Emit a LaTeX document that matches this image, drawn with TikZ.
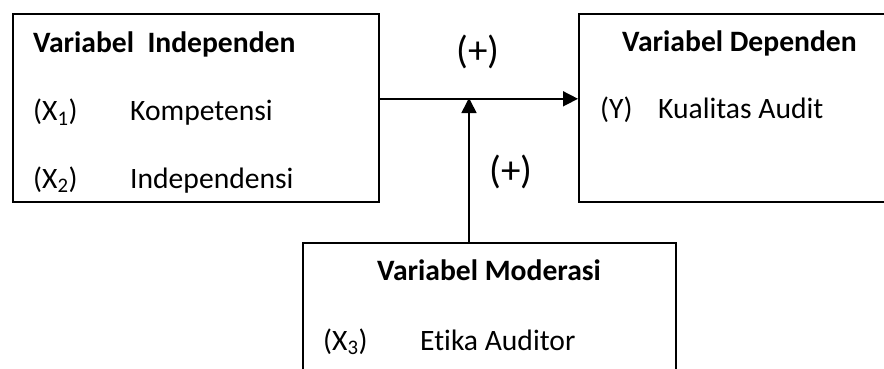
\documentclass[tikz,border=0pt]{standalone}
\usepackage{fontspec}
\setmainfont[Ligatures={NoCommon}]{Carlito}
\usetikzlibrary{arrows.meta}
\begin{document}
\begin{tikzpicture}[x=1pt,y=-1pt,
  box/.style={draw=black,line width=1.6pt,rectangle,inner sep=0pt,anchor=north west},
  txt/.style={anchor=base west,inner sep=0pt,font=\fontsize{29.6}{34}\selectfont},
  hdr/.style={anchor=base west,inner sep=0pt,font=\fontsize{29.6}{34}\selectfont\bfseries},
  sign/.style={anchor=center,inner sep=0pt,font=\fontsize{39}{44}\selectfont},
  arr/.style={line width=1.6pt,-{Triangle[length=15pt,width=15pt]}}]
\clip (0,0) rectangle (884,369);
\fill[white] (0,0) rectangle (884,369);
% boxes
\node[box,minimum width=366pt,minimum height=188pt] (lb) at (12,13) {};
\node[box,minimum width=340pt,minimum height=188pt] (rb) at (578,13) {};
\node[box,minimum width=373pt,minimum height=160pt] (bb) at (302,242) {};
% left texts
\node[hdr] (lh) at (33,53) {Variabel\ \ Independen};
\node[txt] (x1) at (33,121) {(X\textsubscript{1})};
\node[txt] (k1) at (130,121) {Kompetensi};
\node[txt] (x2) at (33,188) {(X\textsubscript{2})};
\node[txt] (k2) at (130,188) {Independensi};
% right texts
\node[hdr] (rh) at (622,52) {Variabel Dependen};
\node[txt] (y) at (600,118) {(Y)};
\node[txt] (ka) at (658,118) {Kualitas Audit};
% bottom texts
\node[hdr] (bh) at (377,280) {Variabel Moderasi};
\node[txt] (x3) at (323,350) {(X\textsubscript{3})};
\node[txt] (ea) at (420,350) {Etika Auditor};
% connectors
\coordinate (m) at (469,98);
\draw[arr] ([yshift=9pt]lb.east) -- ([yshift=9pt]rb.west);
\draw[arr] (m |- bb.north) -- (m);
% signs
\node[sign] (p1) at (478,52) {(+)};
\node[sign] (p2) at (511,172) {(+)};
\end{tikzpicture}
\end{document}
